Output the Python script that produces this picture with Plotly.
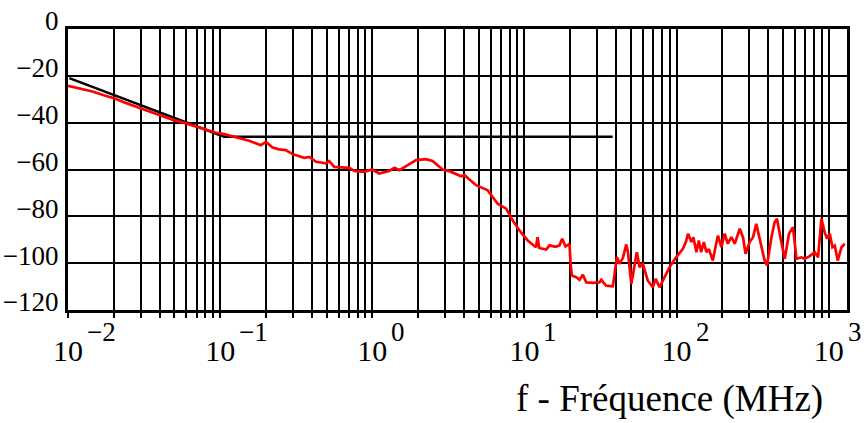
import math
import plotly.graph_objects as go

# ---- data ----
decades = [0.01, 0.1, 1, 10, 100, 1000]
decade_base = ["10", "10", "10", "10", "10", "10"]
decade_exp = ["\u22122", "\u22121", "0", "1", "2", "3"]

y_ticks = [0, -20, -40, -60, -80, -100, -120]

black_f = [0.0102, 0.106, 38.0]
black_db = [-21.0, -46.0, -46.0]

red_f = [
    0.0100, 0.0122, 0.0145, 0.0172, 0.0201, 0.0235, 0.0279, 0.0330, 0.0397, 0.0480,
    0.0595, 0.0700, 0.0806, 0.0930, 0.106, 0.120, 0.133, 0.155, 0.185, 0.200,
    0.221, 0.244, 0.270, 0.299, 0.357, 0.385, 0.427, 0.495, 0.521, 0.562,
    0.706, 0.762, 0.885, 1.00, 1.11, 1.29, 1.40, 1.51, 1.71, 1.94,
    2.25, 2.49, 2.90, 3.21, 3.83, 4.03, 4.81, 5.74, 6.67, 7.58,
    8.37, 9.27, 10.5, 11.9, 12.2, 12.5, 13.9, 14.6, 16.0, 17.0,
    17.7, 18.6, 19.5, 19.8, 20.1, 20.5, 21.9, 23.0, 24.2, 25.5,
    28.1, 31.1, 32.0, 34.4, 38.1, 39.7, 40.5, 42.2, 44.4, 46.7,
    47.9, 50.4, 52.9, 54.8, 57.1, 60.0, 64.7, 69.8, 72.8, 77.3,
    83.4, 89.9, 94.5, 99.5, 110, 115, 119, 125, 129, 135,
    140, 145, 151, 157, 163, 173, 182, 187, 197, 207,
    217, 229, 241, 260, 273, 284, 302, 318, 334, 356,
    379, 393, 420, 441, 457, 481, 514, 548, 582, 614,
    661, 695, 750, 809, 851, 895, 942, 975, 1016, 1057,
    1095, 1146, 1213, 1274,
]
red_db = [
    -24.3, -25.6, -26.7, -28.3, -29.6, -31.4, -33.2, -34.8, -36.7, -38.6,
    -40.3, -41.8, -42.9, -44.2, -44.9, -45.8, -46.7, -47.7, -49.6, -48.2,
    -50.6, -51.4, -51.7, -53.4, -55.0, -54.6, -56.7, -57.4, -56.4, -58.9,
    -59.3, -60.6, -61.0, -60.0, -61.7, -60.6, -59.3, -60.3, -58.1, -56.0,
    -55.6, -56.4, -60.0, -60.7, -62.9, -62.4, -66.7, -68.9, -74.6, -76.7,
    -81.7, -86.0, -90.3, -93.2, -88.9, -93.5, -94.2, -92.4, -93.0, -92.4,
    -89.6, -92.9, -92.0, -92.3, -100.3, -105.3, -106.0, -107.1, -105.0, -108.2,
    -108.4, -108.2, -107.1, -109.6, -109.9, -100.3, -97.4, -100.3, -97.7, -92.0,
    -95.3, -108.9, -100.3, -95.3, -101.7, -100.3, -107.5, -110.3, -106.7, -110.3,
    -106.0, -101.7, -99.6, -97.4, -93.9, -91.0, -87.4, -91.0, -88.9, -95.3,
    -90.3, -95.3, -91.0, -95.3, -94.0, -98.9, -91.7, -88.2, -93.2, -87.4,
    -91.7, -88.9, -91.7, -85.3, -88.9, -96.0, -91.0, -88.9, -83.2, -91.7,
    -98.9, -101.0, -88.9, -82.5, -81.0, -88.9, -98.1, -87.4, -84.6, -98.1,
    -97.5, -98.1, -97.0, -95.3, -97.5, -81.0, -87.0, -89.5, -87.4, -93.2,
    -92.5, -98.9, -93.2, -91.7,
]

# ---- figure ----
SERIF = "Liberation Serif"
minor_vals = [m * d for d in decades for m in range(2, 10)]

fig = go.Figure()
fig.add_trace(go.Scatter(x=black_f, y=black_db, mode="lines",
                         line=dict(color="black", width=2.5), showlegend=False))
fig.add_trace(go.Scatter(x=red_f, y=red_db, mode="lines",
                         line=dict(color="#ff0000", width=2.7), showlegend=False))

fig.update_layout(
    width=867, height=423,
    margin=dict(l=68, r=20, t=29, b=113),
    paper_bgcolor="white", plot_bgcolor="white",
    font=dict(family=SERIF, color="black"),
)
fig.update_xaxes(
    type="log", range=[-2, 3.12], automargin=False,
    tickmode="array", tickvals=decades, ticktext=decade_base,
    showgrid=True, gridcolor="black", gridwidth=2,
    ticks="outside", ticklen=5, tickwidth=2, tickcolor="black",
    minor=dict(tickmode="array", tickvals=minor_vals, showgrid=True,
               gridcolor="black", gridwidth=2, ticks="outside", ticklen=5,
               tickwidth=2, tickcolor="black"),
    showline=True, linecolor="black", linewidth=3, mirror=True,
    zeroline=False,
    tickfont=dict(family=SERIF, size=30, color="black"),
    ticklabelstandoff=7,
)
fig.update_yaxes(
    range=[-120, 0], tickmode="array", tickvals=y_ticks, automargin=False,
    showgrid=True, gridcolor="black", gridwidth=2,
    showline=True, linecolor="black", linewidth=3, mirror=True,
    zeroline=False, ticks="",
    tickfont=dict(family=SERIF, size=27, color="black"),
    ticklabelshift=-8, ticklabelstandoff=1,
)

for d, e in zip(decades, decade_exp):
    fig.add_annotation(
        x=math.log10(d), xref="x", y=0, yref="paper",
        text=e, showarrow=False, xanchor="left", yanchor="middle",
        xshift=17, yshift=-22,
        font=dict(family=SERIF, size=27, color="black"),
    )

fig.add_annotation(
    x=1, xref="paper", y=0, yref="paper",
    text="f - Fréquence (MHz)", showarrow=False,
    xanchor="right", yanchor="middle", xshift=-22, yshift=-89,
    font=dict(family=SERIF, size=37, color="black"),
)

fig.write_html(
    "out.html",
    config={"displayModeBar": False},
    post_script="document.body.style.margin='0';document.body.style.padding='0';",
)
